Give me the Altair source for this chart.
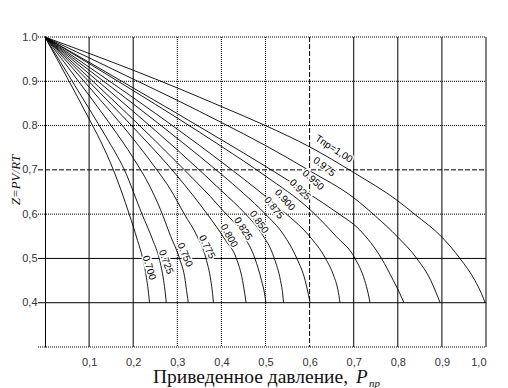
import altair as alt
import pandas as pd

# ---- curves: reduced temperature T_pr, Z vs reduced pressure P_pr ----
curve_names = ["0.700", "0.725", "0.750", "0.775", "0.800", "0.825", "0.850",
               "0.875", "0.900", "0.925", "0.950", "0.975", "1.00"]

x_700 = [0, 0.1, 0.125, 0.155, 0.191, 0.21, 0.2215, 0.231, 0.235, 0.237]
y_700 = [1.0, 0.815, 0.767, 0.70, 0.60, 0.54, 0.50, 0.45, 0.42, 0.40]
x_725 = [0, 0.1, 0.14, 0.18, 0.22, 0.245, 0.259, 0.269, 0.273, 0.275]
y_725 = [1.0, 0.838, 0.772, 0.70, 0.60, 0.54, 0.50, 0.45, 0.42, 0.40]
x_750 = [0, 0.1, 0.15, 0.2, 0.235, 0.262, 0.285, 0.305, 0.318, 0.322, 0.325]
y_750 = [1.0, 0.868, 0.80, 0.727, 0.668, 0.61, 0.55, 0.50, 0.45, 0.42, 0.40]
x_775 = [0, 0.1, 0.2, 0.25, 0.285, 0.316, 0.345, 0.365, 0.376, 0.380, 0.382]
y_775 = [1.0, 0.887, 0.77, 0.705, 0.655, 0.60, 0.55, 0.50, 0.45, 0.42, 0.40]
x_800 = [0, 0.1, 0.2, 0.3, 0.368, 0.41, 0.434, 0.448, 0.453, 0.456]
y_800 = [1.0, 0.899, 0.796, 0.686, 0.60, 0.54, 0.50, 0.45, 0.42, 0.40]
x_825 = [0, 0.1, 0.2, 0.3, 0.4, 0.45, 0.476, 0.491, 0.498, 0.501]
y_825 = [1.0, 0.908, 0.814, 0.716, 0.612, 0.552, 0.50, 0.45, 0.42, 0.40]
x_850 = [0, 0.1, 0.2, 0.3, 0.4, 0.455, 0.49, 0.52, 0.534, 0.539, 0.541]
y_850 = [1.0, 0.917, 0.832, 0.745, 0.653, 0.60, 0.558, 0.50, 0.45, 0.42, 0.40]
x_875 = [0, 0.1, 0.2, 0.3, 0.4, 0.45, 0.5, 0.54, 0.571, 0.59, 0.597, 0.601]
y_875 = [1.0, 0.925, 0.849, 0.771, 0.69, 0.647, 0.60, 0.555, 0.50, 0.45, 0.42, 0.40]
x_900 = [0, 0.1, 0.2, 0.3, 0.4, 0.5, 0.55, 0.6, 0.636, 0.655, 0.664, 0.669]
y_900 = [1.0, 0.932, 0.863, 0.792, 0.718, 0.64, 0.598, 0.55, 0.50, 0.46, 0.43, 0.40]
x_925 = [0, 0.1, 0.2, 0.3, 0.4, 0.5, 0.6, 0.66, 0.703, 0.725, 0.733, 0.737]
y_925 = [1.0, 0.94, 0.879, 0.817, 0.753, 0.686, 0.611, 0.55, 0.50, 0.45, 0.42, 0.40]
x_950 = [0, 0.1, 0.2, 0.3, 0.4, 0.5, 0.6, 0.66, 0.714, 0.763, 0.79, 0.805, 0.814]
y_950 = [1.0, 0.943, 0.885, 0.827, 0.768, 0.708, 0.645, 0.605, 0.564, 0.50, 0.45, 0.42, 0.40]
x_975 = [0, 0.1, 0.2, 0.3, 0.4, 0.5, 0.6, 0.7, 0.75, 0.8, 0.843, 0.875, 0.888, 0.896]
y_975 = [1.0, 0.953, 0.905, 0.857, 0.807, 0.755, 0.698, 0.637, 0.595, 0.548, 0.50, 0.45, 0.42, 0.40]
x_100 = [0, 0.1, 0.2, 0.3, 0.4, 0.5, 0.6, 0.7, 0.8, 0.838, 0.9, 0.941, 0.975, 0.990, 0.998]
y_100 = [1.0, 0.963, 0.925, 0.885, 0.843, 0.80, 0.752, 0.694, 0.630, 0.60, 0.548, 0.50, 0.45, 0.42, 0.40]

curve_x = [x_700, x_725, x_750, x_775, x_800, x_825, x_850, x_875, x_900, x_925, x_950, x_975, x_100]
curve_y = [y_700, y_725, y_750, y_775, y_800, y_825, y_850, y_875, y_900, y_925, y_950, y_975, y_100]

# ---- curve labels ----
label_text = ["0.700", "0.725", "0.750", "0.775", "0.800", "0.825", "0.850",
              "0.875", "0.900", "0.925", "0.950", "0.975", "Tпр=1,00"]
label_x = [0.236, 0.274, 0.317, 0.367, 0.417, 0.449, 0.485, 0.519, 0.544, 0.578, 0.608, 0.633, 0.655]
label_y = [0.479, 0.492, 0.508, 0.526, 0.551, 0.567, 0.582, 0.614, 0.632, 0.655, 0.677, 0.707, 0.747]
label_angle = [73, 70, 67, 64, 61, 58, 55, 52, 48, 45, 42, 38, 33]

# ---- axes / grid ----
x_ticks = [0.1, 0.2, 0.3, 0.4, 0.5, 0.6, 0.7, 0.8, 0.9, 1.0]
y_ticks = [0.4, 0.5, 0.6, 0.7, 0.8, 0.9, 1.0]
vgrid_solid = [0.1, 0.2, 0.7, 0.8, 0.9, 1.0]
vgrid_dotted = [0.3, 0.4, 0.5]
vgrid_dashed = [0.6]
hgrid_solid = [0.4, 0.5]
hgrid_dotted = [0.3, 0.6, 0.8, 0.9, 1.0]
hgrid_dashed = [0.7]

x_title = "Приведенное давление,"
x_title_p = "P"
x_title_sub = "пр"
y_title = "Z=PV/RT"

W, H = 441, 310

rows = []
for name, xs_, ys_ in zip(curve_names, curve_x, curve_y):
    for i, (xv, yv) in enumerate(zip(xs_, ys_)):
        rows.append({"curve": name, "i": i, "x": xv, "y": yv})
df = pd.DataFrame(rows)
lab_df = pd.DataFrame({"t": label_text, "x": label_x, "y": label_y, "a": label_angle})

xs = alt.Scale(domain=[0, 1.0], nice=False, zero=False)
ys = alt.Scale(domain=[0.3, 1.0], nice=False, zero=False)

LBL = "Liberation Sans"
SERIF = "Liberation Serif"

x_axis = alt.Axis(
    values=x_ticks, title=None, grid=False, ticks=False, domain=False,
    labelFont=LBL, labelFontSize=11, labelColor="#333", labelPadding=9,
    labelExpr="replace(format(datum.value, '.1f'), '.', ',')")
y_axis = alt.Axis(
    values=y_ticks, title=None, grid=False, ticks=False, domain=True,
    domainColor="black", domainWidth=1,
    labelFont=LBL, labelFontSize=11, labelColor="#333", labelPadding=8,
    labelExpr="datum.value > 0.75 ? format(datum.value, '.1f') : replace(format(datum.value, '.1f'), '.', ',')")


def vrules(vals, dash):
    m = alt.Chart(pd.DataFrame({"v": vals})).mark_rule(color="black", strokeWidth=1, strokeDash=dash)
    return m.encode(x=alt.X("v:Q", scale=xs, axis=x_axis), y=alt.value(0), y2=alt.value(H))


def hrules(vals, dash):
    m = alt.Chart(pd.DataFrame({"v": vals})).mark_rule(color="black", strokeWidth=1, strokeDash=dash)
    return m.encode(y=alt.Y("v:Q", scale=ys, axis=y_axis), x=alt.value(-7), x2=alt.value(W))


grid = [
    vrules(vgrid_solid, [1, 0]), vrules(vgrid_dotted, [1, 1]), vrules(vgrid_dashed, [5, 2]),
    hrules(hgrid_solid, [1, 0]), hrules(hgrid_dotted, [1, 1]), hrules(hgrid_dashed, [5, 2]),
]

curves = alt.Chart(df).mark_line(color="black", strokeWidth=0.9, interpolate="monotone").encode(
    x=alt.X("x:Q", scale=xs, axis=x_axis),
    y=alt.Y("y:Q", scale=ys, axis=y_axis),
    detail="curve:N",
    order="i:Q",
)

halo = alt.Chart(lab_df).mark_text(font=LBL, fontSize=10, stroke="white", strokeWidth=3,
                                   align="center", baseline="middle").encode(
    x=alt.X("x:Q", scale=xs, axis=x_axis), y=alt.Y("y:Q", scale=ys, axis=y_axis),
    text="t:N", angle=alt.Angle("a:Q", scale=None))
labels = alt.Chart(lab_df).mark_text(font=LBL, fontSize=10, color="black",
                                     align="center", baseline="middle").encode(
    x=alt.X("x:Q", scale=xs, axis=x_axis), y=alt.Y("y:Q", scale=ys, axis=y_axis),
    text="t:N", angle=alt.Angle("a:Q", scale=None))

t1 = alt.Chart(pd.DataFrame({"t": [x_title]})).mark_text(
    font=SERIF, fontSize=19.5, align="left", baseline="alphabetic", color="#111").encode(
    x=alt.value(108), y=alt.value(346), text="t:N")
t2 = alt.Chart(pd.DataFrame({"t": [x_title_p]})).mark_text(
    font=SERIF, fontSize=19, fontStyle="italic", align="left", baseline="alphabetic", color="#111").encode(
    x=alt.value(311), y=alt.value(346), text="t:N")
t3 = alt.Chart(pd.DataFrame({"t": [x_title_sub]})).mark_text(
    font=SERIF, fontSize=11, fontStyle="italic", align="left", baseline="alphabetic", color="#111").encode(
    x=alt.value(324), y=alt.value(350), text="t:N")
ty = alt.Chart(pd.DataFrame({"t": [y_title]})).mark_text(
    font=SERIF, fontSize=13, fontStyle="italic", align="center", baseline="middle", angle=270, color="#111").encode(
    x=alt.value(-29), y=alt.value(143), text="t:N")

chart = alt.layer(*grid, curves, halo, labels, t1, t2, t3, ty).properties(
    width=W, height=H,
    autosize=alt.AutoSizeParams(type="none"),
    padding={"left": 37, "top": 29, "right": 14, "bottom": 43},
).configure_view(stroke=None)

chart.save("out.html", embed_options={"renderer": "svg", "actions": False})
